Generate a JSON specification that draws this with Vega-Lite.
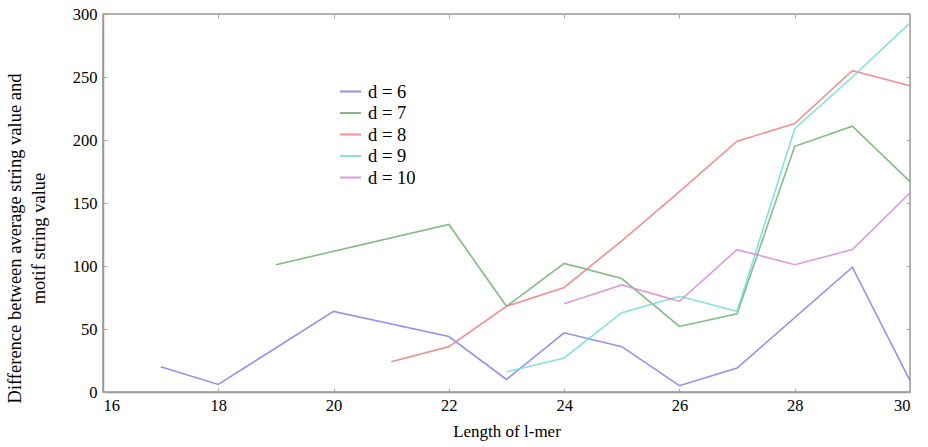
{
  "$schema": "https://vega.github.io/schema/vega-lite/v6.json",
  "autosize": {"type": "none"},
  "padding": {"left": 103, "top": 14, "right": 18, "bottom": 55},
  "width": 807,
  "height": 378,
  "background": "white",
  "config": {
    "view": {"stroke": "#999999", "strokeWidth": 1.5},
    "font": "Liberation Serif",
    "axis": {"grid": false, "domainColor": "#999999", "domainWidth": 1.5, "tickColor": "#aaaaaa", "labelFont": "Liberation Serif", "titleFont": "Liberation Serif", "labelFontSize": 16, "titleFontSize": 17, "labelColor": "black", "titleColor": "black", "titleFontWeight": "normal"},
    "legend": {"labelFont": "Liberation Serif"}
  },
  "data": {"values": [
    {"d": "d = 6", "l": 17, "v": 20}, {"d": "d = 6", "l": 18, "v": 6}, {"d": "d = 6", "l": 20, "v": 64}, {"d": "d = 6", "l": 22, "v": 44}, {"d": "d = 6", "l": 23, "v": 10}, {"d": "d = 6", "l": 24, "v": 47}, {"d": "d = 6", "l": 25, "v": 36}, {"d": "d = 6", "l": 26, "v": 5}, {"d": "d = 6", "l": 27, "v": 19}, {"d": "d = 6", "l": 29, "v": 99}, {"d": "d = 6", "l": 30, "v": 9},
    {"d": "d = 7", "l": 19, "v": 101}, {"d": "d = 7", "l": 22, "v": 133}, {"d": "d = 7", "l": 23, "v": 68}, {"d": "d = 7", "l": 24, "v": 102}, {"d": "d = 7", "l": 25, "v": 90}, {"d": "d = 7", "l": 26, "v": 52}, {"d": "d = 7", "l": 27, "v": 62}, {"d": "d = 7", "l": 28, "v": 195}, {"d": "d = 7", "l": 29, "v": 211}, {"d": "d = 7", "l": 30, "v": 167},
    {"d": "d = 8", "l": 21, "v": 24}, {"d": "d = 8", "l": 22, "v": 36}, {"d": "d = 8", "l": 23, "v": 68}, {"d": "d = 8", "l": 24, "v": 83}, {"d": "d = 8", "l": 25, "v": 120}, {"d": "d = 8", "l": 26, "v": 159}, {"d": "d = 8", "l": 27, "v": 199}, {"d": "d = 8", "l": 28, "v": 213}, {"d": "d = 8", "l": 29, "v": 255}, {"d": "d = 8", "l": 30, "v": 243},
    {"d": "d = 9", "l": 23, "v": 16}, {"d": "d = 9", "l": 24, "v": 27}, {"d": "d = 9", "l": 25, "v": 63}, {"d": "d = 9", "l": 26, "v": 76}, {"d": "d = 9", "l": 27, "v": 64}, {"d": "d = 9", "l": 28, "v": 209}, {"d": "d = 9", "l": 29, "v": 250}, {"d": "d = 9", "l": 30, "v": 293},
    {"d": "d = 10", "l": 24, "v": 70}, {"d": "d = 10", "l": 25, "v": 85}, {"d": "d = 10", "l": 26, "v": 72}, {"d": "d = 10", "l": 27, "v": 113}, {"d": "d = 10", "l": 28, "v": 101}, {"d": "d = 10", "l": 29, "v": 113}, {"d": "d = 10", "l": 30, "v": 158}
  ]},
  "resolve": {"axis": {"x": "independent", "y": "independent"}},
  "layer": [
    {
      "mark": {"type": "line", "strokeWidth": 1.6, "opacity": 0.85},
      "encoding": {
        "x": {"field": "l", "type": "quantitative", "scale": {"domain": [16, 30], "nice": false, "zero": false},
          "axis": {"title": "Length of l-mer", "values": [16, 18, 20, 22, 24, 26, 28, 30], "tickSize": -4, "labelPadding": 9, "titlePadding": 10, "labelFontSize": 16.5}},
        "y": {"field": "v", "type": "quantitative", "scale": {"domain": [0, 300], "nice": false},
          "axis": {"title": ["Difference between average string value and", "\u00a0\u00a0\u00a0\u00a0\u00a0\u00a0\u00a0\u00a0\u00a0\u00a0\u00a0\u00a0\u00a0\u00a0motif string value"], "values": [0, 50, 100, 150, 200, 250, 300], "tickSize": -4, "labelPadding": 10, "titleX": -79, "titleY": 224, "titleBaseline": "bottom", "titleLineHeight": 24, "titleFontSize": 18.5, "labelFontSize": 16.5}},
        "color": {"field": "d", "type": "nominal",
          "scale": {"domain": ["d = 6", "d = 7", "d = 8", "d = 9", "d = 10"], "range": ["#7f7fea", "#6faf6f", "#f07c7c", "#6fdcd6", "#d88ad8"]},
          "legend": {"title": null, "orient": "none", "legendX": 236, "legendY": 66, "symbolType": "stroke", "symbolSize": 441, "symbolStrokeWidth": 2, "labelFontSize": 18.5, "labelColor": "black", "rowPadding": 0.5, "labelOffset": 6}}
      }
    },
    {
      "mark": {"type": "line", "opacity": 0},
      "encoding": {
        "x": {"field": "l", "type": "quantitative", "axis": {"orient": "top", "title": null, "labels": false, "domain": false, "values": [16, 18, 20, 22, 24, 26, 28, 30], "tickSize": -4}},
        "y": {"field": "v", "type": "quantitative", "axis": {"orient": "right", "title": null, "labels": false, "domain": false, "values": [0, 50, 100, 150, 200, 250, 300], "tickSize": -4}}
      }
    }
  ]
}
